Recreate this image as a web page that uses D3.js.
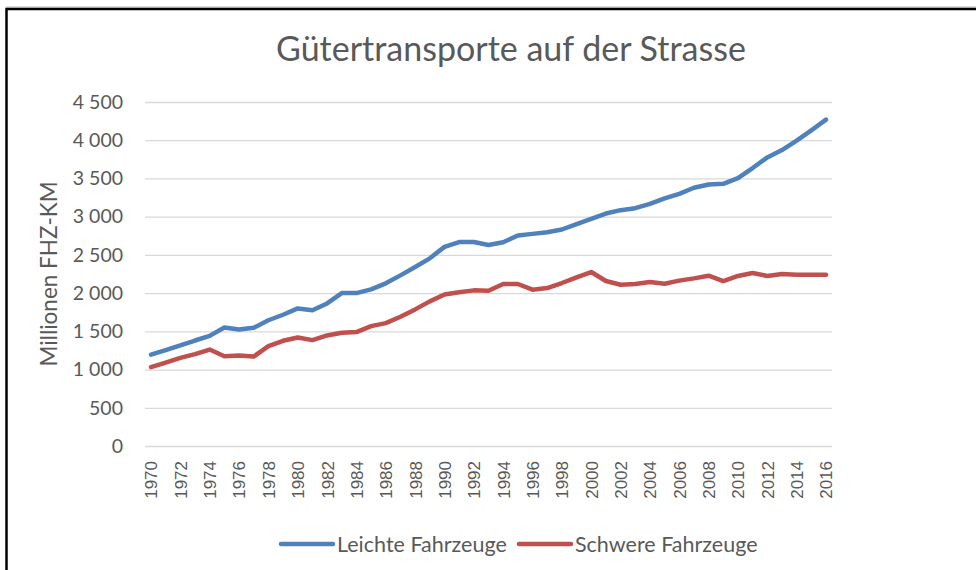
<!DOCTYPE html>
<html>
<head>
<meta charset="utf-8">
<script src="https://cdn.jsdelivr.net/npm/d3@7"></script>
<style>
  body { margin: 0; background: #fff; }
  svg { display: block; }
</style>
</head>
<body>
<svg></svg>
<script>
const width = 976;
const height = 570;
const margin = ({top: 102, right: 150, bottom: 124, left: 151});

const years = d3.range(1970, 2017);
const leichte = [1195, 1255, 1315, 1380, 1440, 1550, 1525, 1546, 1645, 1717, 1800, 1775, 1865, 2000,
    2000, 2049, 2128, 2232, 2341, 2455, 2605, 2668, 2668, 2630, 2665, 2753, 2775, 2797, 2832, 2902,
    2971, 3041, 3085, 3111, 3168, 3238, 3299, 3378, 3421, 3430, 3504, 3636, 3775, 3871, 3994, 4129, 4269];
const schwere = [1032, 1092, 1153, 1201, 1262, 1175, 1184, 1170, 1306, 1376, 1420, 1385, 1446, 1481,
    1490, 1568, 1607, 1690, 1787, 1892, 1983, 2010, 2036, 2030, 2119, 2119, 2045, 2066, 2132, 2206,
    2276, 2158, 2110, 2119, 2145, 2123, 2163, 2193, 2228, 2158, 2224, 2263, 2224, 2250, 2241, 2241, 2241];
const yTicks = [0, 500, 1000, 1500, 2000, 2500, 3000, 3500, 4000, 4500];
const seriesNames = ["Leichte Fahrzeuge", "Schwere Fahrzeuge"];
const colors = ["#4f81bd", "#c0504d"];

const textColor = "#595959";
const font = "Lato, 'Open Sans', sans-serif";

const svg = d3.select("svg")
    .attr("width", width)
    .attr("height", height)
    .attr("viewBox", [0, 0, width, height]);

// frame (right/bottom edge fall outside the picture)
svg.append("line")
    .attr("x1", 6).attr("x2", width).attr("y1", 7).attr("y2", 7)
    .attr("stroke", "#bbb").attr("stroke-width", 1);
svg.append("rect")
    .attr("x", 6.5).attr("y", 9)
    .attr("width", 1000).attr("height", 600)
    .attr("fill", "none")
    .attr("stroke", "#000")
    .attr("stroke-width", 2.5);

const x = d3.scalePoint()
    .domain(years)
    .range([margin.left, width - margin.right]);

const y = d3.scaleLinear()
    .domain([0, 4500])
    .range([height - margin.bottom, margin.top]);

// gridlines + y labels
const yAxis = g => g
    .attr("transform", `translate(${margin.left - 6},0)`)
    .call(d3.axisLeft(y).tickValues(yTicks).tickSize(0).tickPadding(22)
        .tickFormat(d => d3.format(",")(d).replace(",", " ")))
    .call(g => g.select(".domain").remove())
    .call(g => g.selectAll(".tick line").clone()
        .attr("x2", 687)
        .attr("stroke", "#d9d9d9")
        .attr("stroke-width", 1.3))
    .call(g => g.selectAll(".tick text")
        .attr("fill", textColor)
        .attr("font-family", font)
        .attr("font-size", 19.5));

svg.append("g").call(yAxis);

// x labels, every second year
const xAxis = g => g
    .attr("transform", `translate(0,${height - margin.bottom})`)
    .call(d3.axisBottom(x).tickValues(years.filter(d => d % 2 === 0)).tickSize(0).tickPadding(0))
    .call(g => g.select(".domain").remove())
    .call(g => g.selectAll(".tick text")
        .attr("transform", "rotate(-90)")
        .attr("x", -15)
        .attr("y", 0)
        .attr("dy", "0.35em")
        .style("text-anchor", "end")
        .attr("fill", textColor)
        .attr("font-family", "'Liberation Sans', Arial, sans-serif")
        .attr("font-size", 17));

svg.append("g").call(xAxis);

const line = d3.line()
    .x((d, i) => x(years[i]))
    .y(d => y(d));

svg.append("g")
    .attr("fill", "none")
    .attr("stroke-width", 4.5)
    .attr("stroke-linejoin", "round")
    .attr("stroke-linecap", "round")
    .selectAll("path")
    .data([leichte, schwere])
    .join("path")
    .attr("stroke", (d, i) => colors[i])
    .attr("d", line);

// title
svg.append("text")
    .attr("x", 511)
    .attr("y", 61)
    .attr("text-anchor", "middle")
    .attr("fill", textColor)
    .attr("font-family", font)
    .attr("font-size", 34)
    .text("Gütertransporte auf der Strasse");

// y-axis title
svg.append("text")
    .attr("transform", "translate(57,274) rotate(-90)")
    .attr("text-anchor", "middle")
    .attr("fill", textColor)
    .attr("font-family", font)
    .attr("font-size", 22.5)
    .text("Millionen FHZ-KM");

// legend
const legendX = [279, 517];
const legend = svg.append("g")
    .selectAll("g")
    .data(seriesNames)
    .join("g")
    .attr("transform", (d, i) => `translate(${legendX[i]},544)`);

legend.append("line")
    .attr("x1", 2).attr("x2", 54)
    .attr("stroke", (d, i) => colors[i])
    .attr("stroke-width", 4.5)
    .attr("stroke-linecap", "round");

legend.append("text")
    .attr("x", 58)
    .attr("dy", "0.35em")
    .attr("fill", textColor)
    .attr("font-family", font)
    .attr("font-size", 21.5)
    .text(d => d);
</script>
</body>
</html>
